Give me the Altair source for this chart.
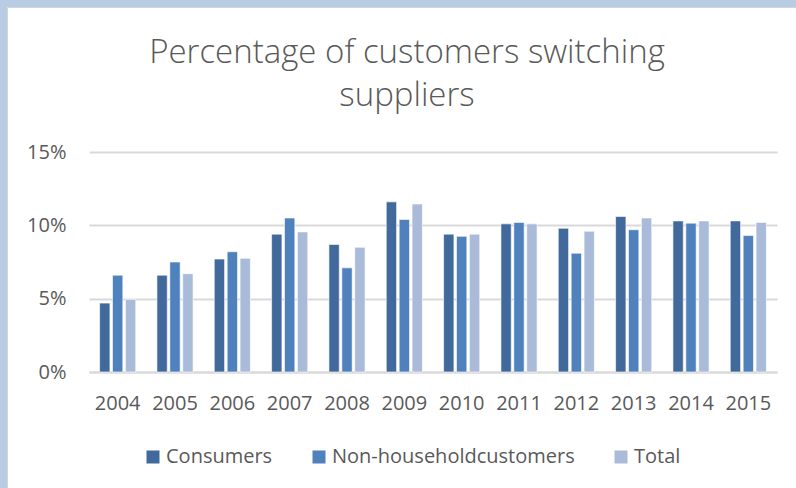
import altair as alt
import pandas as pd

years = ["2004", "2005", "2006", "2007", "2008", "2009", "2010", "2011", "2012", "2013", "2014", "2015"]
consumers = [4.7, 6.6, 7.7, 9.4, 8.7, 11.6, 9.4, 10.1, 9.8, 10.6, 10.3, 10.3]
non_household = [6.6, 7.5, 8.2, 10.5, 7.1, 10.4, 9.25, 10.2, 8.1, 9.7, 10.15, 9.3]
total = [4.95, 6.7, 7.75, 9.55, 8.5, 11.45, 9.4, 10.1, 9.6, 10.5, 10.3, 10.2]
series = ["Consumers", "Non-householdcustomers", "Total"]
colors = ["#41699b", "#4f81bd", "#aabad9"]
title_lines = ["Percentage of customers switching", "suppliers"]

rows = []
for i, y in enumerate(years):
    for s, vals in zip(series, [consumers, non_household, total]):
        rows.append({"Year": y, "Series": s, "Value": vals[i] / 100})
df = pd.DataFrame(rows)

FONT = "Open Sans"
GREY = "#595959"
BORDER = "#b8cce4"
W, H = 688, 220
one = pd.DataFrame({"a": [0]})

# frame strips (top and left) of the chart's surrounding window
top_strip = alt.Chart(one).mark_rect(fill=BORDER).encode(
    x=alt.value(-89), x2=alt.value(707), y=alt.value(-152), y2=alt.value(-145))
left_strip = alt.Chart(one).mark_rect(fill=BORDER).encode(
    x=alt.value(-89), x2=alt.value(-82), y=alt.value(-152), y2=alt.value(336))
top_line = alt.Chart(one).mark_rule(color="#d4d4d4", strokeWidth=1).encode(
    x=alt.value(-81.5), x2=alt.value(707), y=alt.value(-144.5))
left_line = alt.Chart(one).mark_rule(color="#d4d4d4", strokeWidth=1).encode(
    x=alt.value(-81.5), y=alt.value(-144.5), y2=alt.value(336))

title1 = alt.Chart(one).mark_text(
    font=FONT, fontSize=33, fontWeight=300, color=GREY, align="center", baseline="alphabetic"
).encode(x=alt.value(318), y=alt.value(-89), text=alt.value(title_lines[0]))
title2 = alt.Chart(one).mark_text(
    font=FONT, fontSize=33, fontWeight=300, color=GREY, align="center", baseline="alphabetic"
).encode(x=alt.value(318), y=alt.value(-46), text=alt.value(title_lines[1]))

bars = alt.Chart(df).mark_bar(stroke="white", strokeWidth=0.6).encode(
    x=alt.X("Year:N", sort=years, title=None,
            scale=alt.Scale(paddingInner=0.37, paddingOuter=0.185),
            axis=alt.Axis(labelAngle=0, ticks=False, domain=True, domainColor="#d9d9d9",
                          domainWidth=2, labelFont=FONT, labelFontSize=20,
                          labelColor=GREY, labelPadding=21)),
    xOffset=alt.XOffset("Series:N", sort=series,
                        scale=alt.Scale(paddingInner=0.2, paddingOuter=0)),
    y=alt.Y("Value:Q", title=None,
            scale=alt.Scale(domain=[0, 0.15]),
            axis=alt.Axis(values=[0, 0.05, 0.10, 0.15], format=".0%", ticks=False,
                          domain=False, gridColor="#d9d9d9", gridWidth=2,
                          labelFont=FONT, labelFontSize=20, labelColor=GREY,
                          labelPadding=23)),
    color=alt.Color("Series:N", sort=series,
                    scale=alt.Scale(domain=series, range=colors),
                    legend=alt.Legend(title=None, orient="none", direction="horizontal",
                                      legendX=54, legendY=295, symbolType="square",
                                      symbolSize=169, symbolStrokeWidth=0,
                                      labelFont=FONT, labelFontSize=20, labelLimit=0,
                                      labelColor=GREY, labelOffset=3,
                                      columnPadding=36, padding=0)),
)

chart = alt.layer(top_strip, left_strip, top_line, left_line, title1, title2, bars).properties(
    width=W, height=H,
).configure(
    background="white",
    padding={"left": 89, "top": 152, "right": 19, "bottom": 116},
    autosize=alt.AutoSizeParams(type="none"),
).configure_view(stroke=None)

chart.save("out.html", embed_options={"renderer": "svg", "actions": False})
